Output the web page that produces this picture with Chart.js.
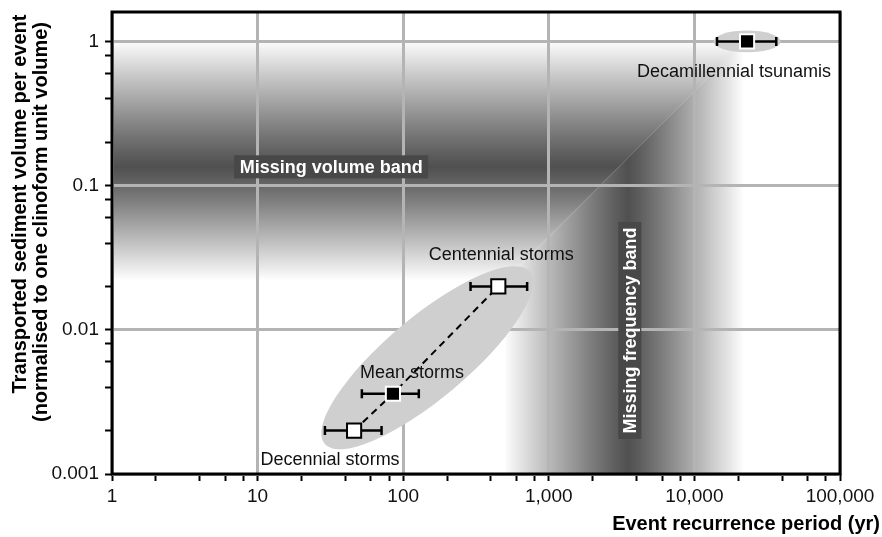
<!DOCTYPE html>
<html>
<head>
<meta charset="utf-8">
<script src="https://cdn.jsdelivr.net/npm/chart.js@4.4.1/dist/chart.umd.min.js"></script>
<style>
  html, body { margin: 0; padding: 0; background: #fff; }
  #wrap { width: 882px; height: 537px; }
</style>
</head>
<body>
<div id="wrap"><canvas id="chart" width="882" height="537"></canvas></div>
<script>
// event groups
const eventNames = ["Decennial storms", "Mean storms", "Centennial storms", "Decamillennial tsunamis"];
const recurrence = [46, 85, 450, 23000];          // yr
const recurrenceLow = [29, 52, 290, 14300];
const recurrenceHigh = [71, 128, 710, 36500];
const volume = [0.002, 0.0036, 0.02, 1];           // per clinoform unit volume
const filled = [false, true, false, true];

const xTickLabels = ["1", "10", "100", "1,000", "10,000", "100,000"];
const yTickLabels = ["0.001", "0.01", "0.1", "1"];

// shaded "missing" bands: fade start, darkest, fade end
const volumeBand = [0.022, 0.135, 1];
const frequencyBand = [500, 3500, 22000];

const FONT = '"Liberation Sans", Arial, sans-serif';

const toNum = s => Number(s.replace(/,/g, ''));
const xMajor = xTickLabels.map(toNum);
const yMajor = yTickLabels.map(toNum);
const withMinor = major => {
  const out = [];
  major.forEach((m, i) => {
    out.push(m);
    if (i < major.length - 1) [2, 4, 6, 8].forEach(k => out.push(m * k));
  });
  return out;
};
const xTicks = withMinor(xMajor);
const yTicks = withMinor(yMajor);
const isMajor = (v, major) => major.some(m => Math.abs(v / m - 1) < 1e-6);
const labelFor = (v, major, labels) => {
  const i = major.findIndex(m => Math.abs(v / m - 1) < 1e-6);
  return i >= 0 ? labels[i] : '';
};

// grey halos round the event groups (axes in decades)
const halos = [
  { cx: 146, cy: 0.0064, a: 0.92, b: 0.28, angle: 40 },
  { cx: 23000, cy: 1, a: 0.23, b: 0.075, angle: 0 }
];
const bandLabels = [
  { text: "Missing volume band", x: 32, y: 0.135, vertical: false },
  { text: "Missing frequency band", x: 3600, y: 0.0099, vertical: true }
];
const labelOffsets = [[-24, 29], [19, -21], [3, -31], [-13, 31]];

function addFade(g, peak) {
  // grey ramp: ~white at both ends, dark at the peak
  const steps = 12;
  for (let i = 0; i <= steps; i++) {
    const t = peak * i / steps;
    const s = 1 - i / steps;
    const v = Math.round(80 + 172 * Math.pow(s, 1.1));
    g.addColorStop(t, `rgb(${v},${v},${v})`);
  }
  for (let i = 1; i <= steps; i++) {
    const t = peak + (1 - peak) * i / steps;
    const s = i / steps;
    const v = Math.round(80 + 175 * Math.pow(s, 1.1));
    g.addColorStop(t, `rgb(${v},${v},${v})`);
  }
}

const bandShading = {
  id: 'bandShading',
  beforeDraw(chart) {
    const { ctx, chartArea: a, scales: { x, y } } = chart;
    const yLo = y.getPixelForValue(volumeBand[0]);
    const yPk = y.getPixelForValue(volumeBand[1]);
    const yHi = y.getPixelForValue(volumeBand[2]);
    const xLo = x.getPixelForValue(frequencyBand[0]);
    const xPk = x.getPixelForValue(frequencyBand[1]);
    const xHi = x.getPixelForValue(frequencyBand[2]);
    ctx.save();
    // horizontal band, mitred against the vertical one
    let g = ctx.createLinearGradient(0, yHi, 0, yLo);
    addFade(g, (yPk - yHi) / (yLo - yHi));
    ctx.fillStyle = g;
    ctx.beginPath();
    ctx.moveTo(a.left, yHi);
    ctx.lineTo(xHi, yHi);
    ctx.lineTo(xLo, yLo);
    ctx.lineTo(a.left, yLo);
    ctx.closePath();
    ctx.fill();
    // vertical band
    g = ctx.createLinearGradient(xLo, 0, xHi, 0);
    addFade(g, (xPk - xLo) / (xHi - xLo));
    ctx.fillStyle = g;
    ctx.beginPath();
    ctx.moveTo(xLo, a.bottom);
    ctx.lineTo(xLo, yLo);
    ctx.lineTo(xHi, yHi);
    ctx.lineTo(xHi, a.bottom);
    ctx.closePath();
    ctx.fill();
    ctx.restore();
  }
};

const overlays = {
  id: 'overlays',
  beforeDatasetsDraw(chart) {
    const { ctx, scales: { x, y } } = chart;
    const dec = x.getPixelForValue(10) - x.getPixelForValue(1);
    ctx.save();
    // halos
    ctx.fillStyle = '#cfcfcf';
    halos.forEach(h => {
      ctx.beginPath();
      ctx.ellipse(x.getPixelForValue(h.cx), y.getPixelForValue(h.cy), h.a * dec, h.b * dec,
        -h.angle * Math.PI / 180, 0, Math.PI * 2);
      ctx.fill();
    });
    // band labels
    ctx.font = `bold 18px ${FONT}`;
    ctx.textAlign = 'center';
    ctx.textBaseline = 'middle';
    bandLabels.forEach(b => {
      const px = x.getPixelForValue(b.x), py = y.getPixelForValue(b.y);
      const w = ctx.measureText(b.text).width + 11, hgt = 23;
      ctx.save();
      ctx.translate(px, py);
      if (b.vertical) ctx.rotate(-Math.PI / 2);
      ctx.fillStyle = '#484848';
      ctx.fillRect(-w / 2, -hgt / 2, w, hgt);
      ctx.fillStyle = '#fff';
      ctx.fillText(b.text, 0, 1);
      ctx.restore();
    });
    // error bars
    ctx.strokeStyle = '#000';
    ctx.lineWidth = 2.5;
    recurrence.forEach((r, i) => {
      const py = y.getPixelForValue(volume[i]);
      const x0 = x.getPixelForValue(recurrenceLow[i]);
      const x1 = x.getPixelForValue(recurrenceHigh[i]);
      ctx.beginPath();
      ctx.moveTo(x0, py); ctx.lineTo(x1, py);
      ctx.moveTo(x0, py - 4.5); ctx.lineTo(x0, py + 4.5);
      ctx.moveTo(x1, py - 4.5); ctx.lineTo(x1, py + 4.5);
      ctx.stroke();
    });
    ctx.restore();
  },
  afterDatasetsDraw(chart) {
    const { ctx, chartArea: a, scales: { x, y } } = chart;
    ctx.save();
    ctx.font = `18px ${FONT}`;
    ctx.fillStyle = '#111';
    ctx.textAlign = 'center';
    ctx.textBaseline = 'middle';
    eventNames.forEach((n, i) => {
      const [dx, dy] = labelOffsets[i];
      ctx.fillText(n, x.getPixelForValue(recurrence[i]) + dx, y.getPixelForValue(volume[i]) + dy);
    });
    // frame
    ctx.strokeStyle = '#000';
    ctx.lineWidth = 3;
    ctx.strokeRect(a.left, a.top, a.right - a.left, a.bottom - a.top);
    ctx.restore();
  },
  afterDraw(chart) {
    const { ctx } = chart;
    ctx.save();
    ctx.fillStyle = '#000';
    ctx.font = `bold 20px ${FONT}`;
    ctx.textBaseline = 'middle';
    ctx.textAlign = 'right';
    ctx.fillText('Event recurrence period (yr)', 880, 524);
    ctx.textAlign = 'center';
    ctx.save();
    ctx.translate(20, 204);
    ctx.rotate(-Math.PI / 2);
    ctx.fillText('Transported sediment volume per event', 0, 0);
    ctx.restore();
    ctx.save();
    ctx.translate(41, 222);
    ctx.rotate(-Math.PI / 2);
    ctx.fillText('(normalised to one clinoform unit volume)', 0, 0);
    ctx.restore();
    ctx.restore();
  }
};

new Chart(document.getElementById('chart'), {
  type: 'scatter',
  data: {
    datasets: [
      {
        label: 'Events',
        data: recurrence.map((v, i) => ({ x: v, y: volume[i] })),
        pointStyle: 'rect',
        pointRadius: 10,
        pointHoverRadius: 10,
        pointBackgroundColor: filled.map(f => f ? '#000' : '#fff'),
        pointBorderColor: filled.map(f => f ? '#fff' : '#000'),
        pointBorderWidth: 2,
        pointHoverBorderWidth: 2
      },
      {
        type: 'line',
        label: 'Storm trend',
        data: recurrence.slice(0, 3).map((v, i) => ({ x: v, y: volume[i] })),
        borderColor: '#000',
        borderWidth: 2,
        borderDash: [7, 5],
        pointRadius: 0,
        fill: false,
        tension: 0
      }
    ]
  },
  options: {
    responsive: false,
    animation: false,
    events: [],
    layout: { padding: { top: 10, right: 42, left: 0, bottom: 0 } },
    plugins: { legend: { display: false }, tooltip: { enabled: false } },
    scales: {
      x: {
        type: 'logarithmic',
        min: 1, max: 100000,
        bounds: 'data',
        afterBuildTicks: s => { s.ticks = xTicks.map(v => ({ value: v })); },
        afterFit: s => { s.height = 63; s.paddingLeft = 0; s.paddingRight = 0; },
        border: { display: false },
        grid: {
          color: c => isMajor(c.tick.value, xMajor) ? '#b4b4b4' : 'rgba(0,0,0,0)',
          lineWidth: 3, tickColor: '#000', tickWidth: 2, tickLength: 7
        },
        ticks: {
          autoSkip: false, maxRotation: 0, minRotation: 0, padding: 4,
          color: '#111', font: { size: 19, family: FONT },
          callback: v => labelFor(v, xMajor, xTickLabels)
        }
      },
      y: {
        type: 'logarithmic',
        min: 0.001, max: 1.6,
        bounds: 'data',
        afterBuildTicks: s => { s.ticks = yTicks.map(v => ({ value: v })); },
        afterFit: s => { s.width = 112; s.paddingTop = 0; s.paddingBottom = 0; },
        border: { display: false },
        grid: {
          color: c => isMajor(c.tick.value, yMajor) ? '#b4b4b4' : 'rgba(0,0,0,0)',
          lineWidth: 3, tickColor: '#000', tickWidth: 2, tickLength: 7
        },
        ticks: {
          autoSkip: false, padding: 6,
          color: '#111', font: { size: 19, family: FONT },
          callback: v => labelFor(v, yMajor, yTickLabels)
        }
      }
    }
  },
  plugins: [bandShading, overlays]
});
</script>
</body>
</html>
